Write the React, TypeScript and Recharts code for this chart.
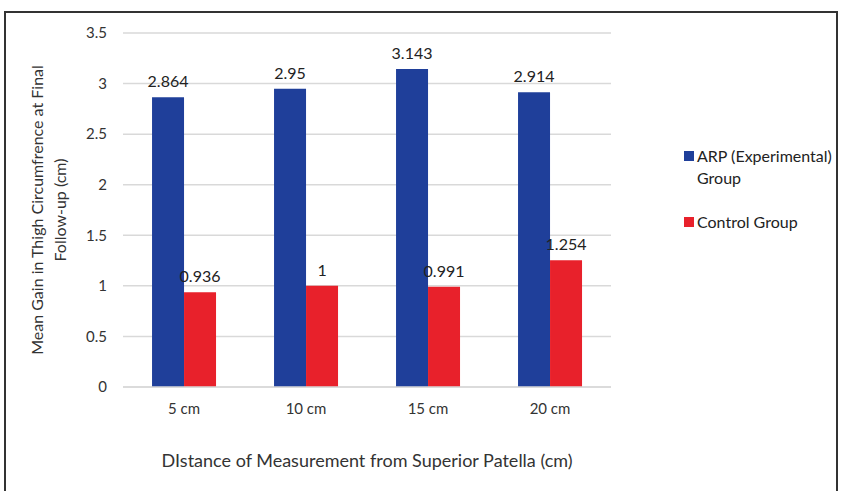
import React from 'react';
import { BarChart, Bar, XAxis, YAxis, CartesianGrid, LabelList, Label } from 'recharts';

const categories = ['5 cm', '10 cm', '15 cm', '20 cm'];
const arpValues = [2.864, 2.95, 3.143, 2.914];
const controlValues = [0.936, 1, 0.991, 1.254];
const yTicks = [0, 0.5, 1, 1.5, 2, 2.5, 3, 3.5];
const seriesNames = ['ARP (Experimental) Group', 'Control Group'];

const data = categories.map((c, i) => ({ name: c, arp: arpValues[i], control: controlValues[i] }));

const FONT = 'Lato, "Open Sans", sans-serif';
const BLUE = '#1f3f9a';
const RED = '#e8212b';

const YTitle = () => {
  const cy = 210;
  return (
    <g>
      <text transform={`translate(36, ${cy}) rotate(-90)`} textAnchor="middle" dominantBaseline="central" fontSize={16} fill="#333" fontFamily={FONT}>
        Mean Gain in Thigh Circumfrence at Final
      </text>
      <text transform={`translate(59, ${cy}) rotate(-90)`} textAnchor="middle" dominantBaseline="central" fontSize={16} fill="#333" fontFamily={FONT}>
        Follow-up (cm)
      </text>
    </g>
  );
};

const LegendBox = () => (
  <div style={{ position: 'absolute', left: 684, top: 145, fontFamily: FONT, fontSize: 16, color: '#222', lineHeight: '22px', width: 160 }}>
    <div style={{ display: 'flex', alignItems: 'flex-start' }}>
      <span style={{ display: 'inline-block', width: 10, height: 10, background: BLUE, marginTop: 6, marginRight: 3, flexShrink: 0 }} />
      <span>ARP (Experimental)<br />Group</span>
    </div>
    <div style={{ display: 'flex', alignItems: 'flex-start', marginTop: 22 }}>
      <span style={{ display: 'inline-block', width: 10, height: 10, background: RED, marginTop: 6, marginRight: 3, flexShrink: 0 }} />
      <span>{seriesNames[1]}</span>
    </div>
  </div>
);

export default function App() {
  return (
    <div style={{ position: 'absolute', left: 0, top: 0, width: 846, height: 491, background: '#fff', overflow: 'hidden' }}>
      <div style={{ position: 'absolute', left: 4, top: 11, width: 834, height: 500, border: '2px solid #333', boxSizing: 'border-box' }} />
      <div style={{ position: 'absolute', left: 0, top: 0 }}>
        <BarChart
          width={846}
          height={491}
          data={data}
          margin={{ top: 33, right: 235, bottom: 14, left: 63 }}
          barCategoryGap="23.8%"
          barGap={0}
        >
          <CartesianGrid vertical={false} stroke="#d9d9d9" strokeWidth={1.5} />
          <XAxis
            dataKey="name"
            height={90}
            tickLine={false}
            tickSize={0}
            tickMargin={16}
            axisLine={{ stroke: '#d9d9d9', strokeWidth: 1.5 }}
            tick={{ fontSize: 15, fill: '#333', fontFamily: FONT }}
          >
            <Label value="DIstance of Measurement from Superior Patella (cm)" position="insideBottom" offset={10} style={{ fontSize: 18, fill: '#333', fontFamily: FONT }} />
          </XAxis>
          <YAxis
            width={60}
            domain={[0, 3.5]}
            ticks={yTicks}
            tickLine={false}
            tickSize={0}
            tickMargin={16}
            axisLine={false}
            interval={0}
            tick={{ fontSize: 15, fill: '#333', fontFamily: FONT }}
            label={<YTitle />}
          />
          <Bar dataKey="arp" name={seriesNames[0]} fill={BLUE} isAnimationActive={false}>
            <LabelList dataKey="arp" position="top" offset={10} style={{ fontSize: 16, fill: '#222', fontFamily: FONT }} />
          </Bar>
          <Bar dataKey="control" name={seriesNames[1]} fill={RED} isAnimationActive={false}>
            <LabelList dataKey="control" position="top" offset={10} style={{ fontSize: 16, fill: '#222', fontFamily: FONT }} />
          </Bar>
        </BarChart>
      </div>
      <LegendBox />
    </div>
  );
}
